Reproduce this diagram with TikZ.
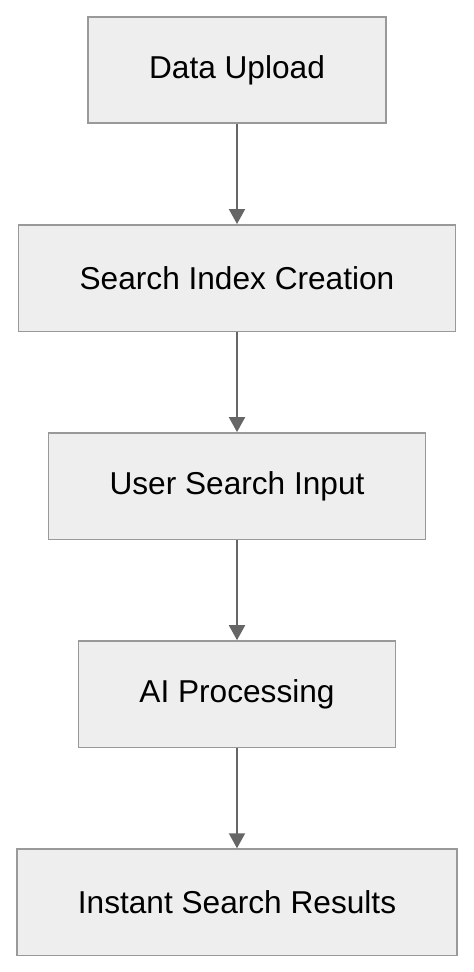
\documentclass[tikz,border=0pt]{standalone}
\usepackage{fontspec}
\setmainfont{Liberation Sans}
\usetikzlibrary{positioning,arrows.meta}

\definecolor{boxfill}{HTML}{EEEEEE}
\definecolor{boxline}{HTML}{999999}
\definecolor{arrowline}{HTML}{666666}

\begin{document}
\begin{tikzpicture}[>={Triangle[length=0.3cm,width=0.32cm]},
  stage/.style={draw=boxline, fill=boxfill, line width=0.9pt, minimum height=2.13cm,
    inner xsep=1.22cm, font=\fontsize{18}{22}\selectfont},
  flow/.style={->, draw=arrowline, line width=1.1pt},
  node distance=2cm]
  \useasboundingbox (0,0) rectangle (9.48,-19.44);
  \node[stage] (upload) at (4.74,-1.40) {Data Upload};
  \node[stage, below=of upload] (index) {Search Index Creation};
  \node[stage, below=of index] (input) {User Search Input};
  \node[stage, below=of input] (proc) {AI Processing};
  \node[stage, below=of proc] (results) {Instant Search Results};
  \draw[flow] (upload) -- (index);
  \draw[flow] (index) -- (input);
  \draw[flow] (input) -- (proc);
  \draw[flow] (proc) -- (results);
\end{tikzpicture}
\end{document}
